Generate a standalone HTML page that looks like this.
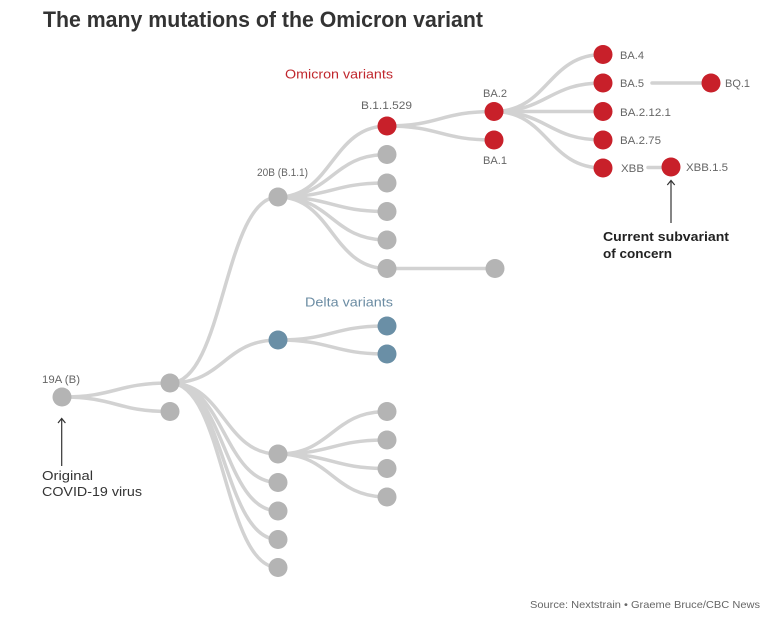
<!DOCTYPE html>
<html><head><meta charset="utf-8"><style>
html,body{margin:0;padding:0;background:#fff;}
svg{display:block;}
text{font-family:"Liberation Sans",sans-serif;}
</style></head><body>
<svg width="771" height="623" viewBox="0 0 771 623" xmlns="http://www.w3.org/2000/svg">
<rect width="771" height="623" fill="#fff"/>
<text x="43" y="27" font-size="22" font-weight="bold" fill="#333" textLength="440" lengthAdjust="spacingAndGlyphs">The many mutations of the Omicron variant</text>

<g fill="none" stroke="#d2d2d2" stroke-width="3.5" stroke-linecap="round">
<!-- root -> L1 -->
<path d="M62,397 C116,397 116,383 170,383"/>
<path d="M62,397 C116,397 116,411.5 170,411.5"/>
<!-- L1a -> L2 -->
<path d="M170,383 C224,383 224,197 278,197"/>
<path d="M170,383 C224,383 224,340 278,340"/>
<path d="M170,383 C224,383 224,454 278,454"/>
<path d="M170,383 C224,383 224,482.5 278,482.5"/>
<path d="M170,383 C224,383 224,511 278,511"/>
<path d="M170,383 C224,383 224,539.5 278,539.5"/>
<path d="M170,383 C224,383 224,567.5 278,567.5"/>
<!-- 20B -> L3 -->
<path d="M278,197 C332,197 332,126 387,126"/>
<path d="M278,197 C332,197 332,154.5 387,154.5"/>
<path d="M278,197 C332,197 332,183 387,183"/>
<path d="M278,197 C332,197 332,211.5 387,211.5"/>
<path d="M278,197 C332,197 332,240 387,240"/>
<path d="M278,197 C332,197 332,268.5 387,268.5"/>
<!-- delta -->
<path d="M278,340 C332,340 332,326 387,326"/>
<path d="M278,340 C332,340 332,354 387,354"/>
<!-- G1 -->
<path d="M278,454 C332,454 332,411.5 387,411.5"/>
<path d="M278,454 C332,454 332,440 387,440"/>
<path d="M278,454 C332,454 332,468.5 387,468.5"/>
<path d="M278,454 C332,454 332,497 387,497"/>
<path d="M387,268.5 L495,268.5"/>
<!-- omicron -->
<path d="M387,126 C440,126 440,111.5 494,111.5"/>
<path d="M387,126 C440,126 440,140 494,140"/>
<path d="M494,111.5 C548,111.5 548,54.5 603,54.5"/>
<path d="M494,111.5 C548,111.5 548,83 603,83"/>
<path d="M494,111.5 L603,111.5"/>
<path d="M494,111.5 C548,111.5 548,140 603,140"/>
<path d="M494,111.5 C548,111.5 548,168 603,168"/>
<path d="M652,83 L711,83"/>
<path d="M648,167.5 L671,167.5"/>
</g>

<g fill="#b4b4b4">
<circle cx="62" cy="397" r="9.5"/>
<circle cx="170" cy="383" r="9.5"/>
<circle cx="170" cy="411.5" r="9.5"/>
<circle cx="278" cy="197" r="9.5"/>
<circle cx="278" cy="454" r="9.5"/>
<circle cx="278" cy="482.5" r="9.5"/>
<circle cx="278" cy="511" r="9.5"/>
<circle cx="278" cy="539.5" r="9.5"/>
<circle cx="278" cy="567.5" r="9.5"/>
<circle cx="387" cy="154.5" r="9.5"/>
<circle cx="387" cy="183" r="9.5"/>
<circle cx="387" cy="211.5" r="9.5"/>
<circle cx="387" cy="240" r="9.5"/>
<circle cx="387" cy="268.5" r="9.5"/>
<circle cx="495" cy="268.5" r="9.5"/>
<circle cx="387" cy="411.5" r="9.5"/>
<circle cx="387" cy="440" r="9.5"/>
<circle cx="387" cy="468.5" r="9.5"/>
<circle cx="387" cy="497" r="9.5"/>
</g>
<g fill="#6a8fa6">
<circle cx="278" cy="340" r="9.5"/>
<circle cx="387" cy="326" r="9.5"/>
<circle cx="387" cy="354" r="9.5"/>
</g>
<g fill="#c8202a">
<circle cx="387" cy="126" r="9.5"/>
<circle cx="494" cy="111.5" r="9.5"/>
<circle cx="494" cy="140" r="9.5"/>
<circle cx="603" cy="54.5" r="9.5"/>
<circle cx="603" cy="83" r="9.5"/>
<circle cx="603" cy="111.5" r="9.5"/>
<circle cx="603" cy="140" r="9.5"/>
<circle cx="603" cy="168" r="9.5"/>
<circle cx="711" cy="83" r="9.5"/>
<circle cx="671" cy="167" r="9.5"/>
</g>

<g font-size="11" fill="#666">
<text x="42" y="383" textLength="38" lengthAdjust="spacingAndGlyphs">19A (B)</text>
<text x="257" y="176" textLength="51" lengthAdjust="spacingAndGlyphs">20B (B.1.1)</text>
<text x="361" y="109" textLength="51" lengthAdjust="spacingAndGlyphs">B.1.1.529</text>
<text x="483" y="97" textLength="24" lengthAdjust="spacingAndGlyphs">BA.2</text>
<text x="483" y="164" textLength="24" lengthAdjust="spacingAndGlyphs">BA.1</text>
<text x="620" y="59" textLength="24" lengthAdjust="spacingAndGlyphs">BA.4</text>
<text x="620" y="87" textLength="24" lengthAdjust="spacingAndGlyphs">BA.5</text>
<text x="620" y="116" textLength="51" lengthAdjust="spacingAndGlyphs">BA.2.12.1</text>
<text x="620" y="144" textLength="41" lengthAdjust="spacingAndGlyphs">BA.2.75</text>
<text x="621" y="172" textLength="23" lengthAdjust="spacingAndGlyphs">XBB</text>
<text x="686" y="171" textLength="42" lengthAdjust="spacingAndGlyphs">XBB.1.5</text>
<text x="725" y="87" textLength="25" lengthAdjust="spacingAndGlyphs">BQ.1</text>
</g>

<text x="285" y="78.5" font-size="13" fill="#c0272d" textLength="108" lengthAdjust="spacingAndGlyphs">Omicron variants</text>
<text x="305" y="306.5" font-size="13" fill="#6b8ca3" textLength="88" lengthAdjust="spacingAndGlyphs">Delta variants</text>

<g stroke="#333" stroke-width="1.2" fill="none">
<path d="M61.7,418.5 L61.7,466"/>
<path d="M58,423 L61.7,418.5 L65.4,423"/>
<path d="M671,180.5 L671,223"/>
<path d="M667.3,185 L671,180.5 L674.7,185"/>
</g>

<g font-size="13" fill="#333">
<text x="42" y="480" textLength="51" lengthAdjust="spacingAndGlyphs">Original</text>
<text x="42" y="496" textLength="100" lengthAdjust="spacingAndGlyphs">COVID-19 virus</text>
</g>
<g font-size="12.5" font-weight="bold" fill="#222">
<text x="603" y="241" textLength="126" lengthAdjust="spacingAndGlyphs">Current subvariant</text>
<text x="603" y="258" textLength="69" lengthAdjust="spacingAndGlyphs">of concern</text>
</g>

<text x="530" y="608" font-size="10.5" fill="#666" textLength="230" lengthAdjust="spacingAndGlyphs">Source: Nextstrain • Graeme Bruce/CBC News</text>
</svg>
</body></html>
